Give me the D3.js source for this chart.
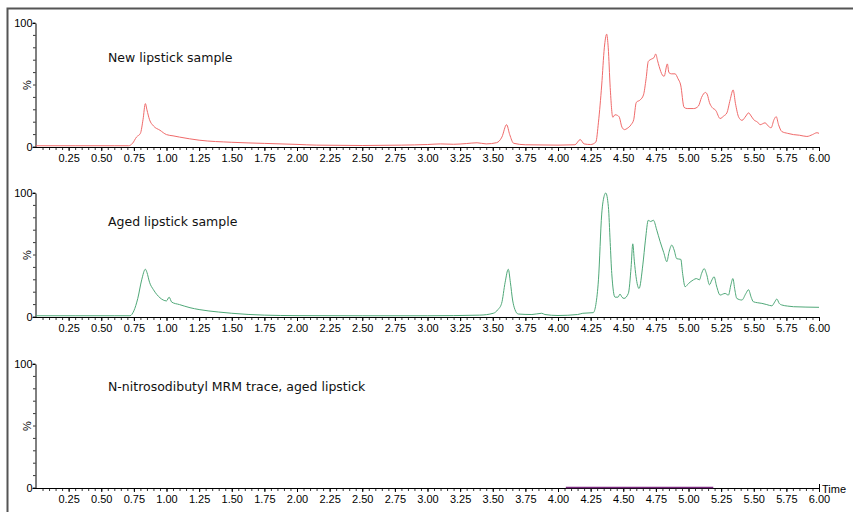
<!DOCTYPE html>
<html>
<head>
<meta charset="utf-8">
<script src="https://cdn.jsdelivr.net/npm/d3@7"></script>
<style>
  html, body { margin: 0; padding: 0; background: #fff; }
  svg { display: block; }
  .tick-label { font-family: "Liberation Sans Narrow", "Liberation Sans", Arial, sans-serif; font-size: 11px; fill: #000; }
  .panel-title { font-family: "DejaVu Sans", Verdana, sans-serif; font-size: 12.5px; fill: #111; }
</style>
</head>
<body>
<div id="chart"></div>
<script>
// time axis (minutes)
const timeDomain = [0, 6];
const majorTicks = d3.range(1, 25).map((i) => i * 0.25);
const minorTicks = d3.range(1, 121).map((i) => i * 0.05);
const pctTicks = [0, 100];
const pctMinor = d3.range(0, 101, 10);

const panelTitles = [
  'New lipstick sample',
  'Aged lipstick sample',
  'N-nitrosodibutyl MRM trace, aged lipstick',
];

// [time, %]
const newLipstick = [
  [0, 1], [0.3, 1], [0.6, 1], [0.71, 1], [0.74, 3], [0.77, 8], [0.8, 11], [0.82, 22],
  [0.838, 35], [0.85, 30], [0.87, 22], [0.9, 17], [0.95, 13.5], [1.0, 10], [1.05, 9],
  [1.1, 8], [1.25, 5.5], [1.5, 3.8], [1.75, 2.9], [2.0, 2.1], [2.15, 1.5], [2.5, 1.2],
  [2.8, 1.5], [3.0, 2], [3.1, 2.5], [3.2, 2.2], [3.3, 2.8], [3.38, 3.4], [3.45, 2.5],
  [3.53, 3.5], [3.57, 8], [3.606, 18], [3.63, 10], [3.66, 3], [3.75, 1.8], [4.0, 1.5],
  [4.13, 1.8], [4.17, 6], [4.2, 2.5], [4.25, 2], [4.29, 4], [4.31, 20], [4.335, 50],
  [4.355, 80], [4.373, 91], [4.385, 80], [4.4, 48], [4.42, 24], [4.437, 26], [4.455, 25.5],
  [4.47, 24], [4.49, 16], [4.51, 14], [4.53, 15], [4.56, 18], [4.58, 22], [4.6, 36],
  [4.63, 38], [4.655, 42], [4.675, 55], [4.692, 69], [4.718, 71], [4.735, 72], [4.749, 75],
  [4.762, 70], [4.775, 65], [4.8, 58], [4.813, 57], [4.838, 67], [4.85, 60], [4.87, 59],
  [4.897, 59], [4.92, 55], [4.94, 50], [4.966, 32], [4.99, 31], [5.04, 31], [5.076, 33],
  [5.1, 40], [5.13, 44], [5.145, 42], [5.16, 36], [5.18, 32], [5.209, 29.5], [5.242, 23],
  [5.27, 25], [5.294, 27.5], [5.319, 38], [5.342, 46], [5.36, 35], [5.385, 24], [5.41, 21.5],
  [5.44, 25], [5.46, 27.5], [5.48, 25], [5.5, 22], [5.53, 20], [5.549, 18], [5.587, 19.5],
  [5.61, 17], [5.633, 15.5], [5.655, 22], [5.672, 24.5], [5.69, 18], [5.715, 12.5],
  [5.76, 11], [5.804, 10], [5.85, 9.5], [5.907, 8.5], [5.95, 10], [5.984, 11.5], [6.0, 11],
];

const agedLipstick = [
  [0, 1], [0.3, 1], [0.6, 1], [0.72, 1], [0.75, 5], [0.78, 15], [0.81, 30], [0.838, 38.5],
  [0.85, 36], [0.87, 28], [0.9, 22], [0.95, 15.5], [1.0, 13], [1.02, 16], [1.04, 12],
  [1.1, 10], [1.18, 7.5], [1.25, 6], [1.4, 4], [1.5, 3], [1.75, 1.5], [2.0, 1.1], [2.5, 1],
  [3.0, 1], [3.4, 1.5], [3.504, 3], [3.54, 6], [3.568, 11], [3.595, 28], [3.619, 38.5],
  [3.635, 28], [3.652, 13.7], [3.67, 6], [3.695, 2.4], [3.8, 2], [3.875, 3], [3.9, 2],
  [4.0, 1.2], [4.15, 2], [4.19, 3], [4.27, 3.5], [4.29, 10], [4.31, 30], [4.335, 83],
  [4.355, 98], [4.366, 100], [4.386, 89], [4.4, 60], [4.412, 35], [4.437, 16], [4.46, 16],
  [4.475, 18.5], [4.49, 16], [4.506, 15], [4.539, 19], [4.56, 40], [4.573, 59], [4.585, 45],
  [4.598, 32.5], [4.621, 23], [4.65, 42], [4.67, 62], [4.692, 78], [4.71, 77], [4.731, 78],
  [4.757, 70], [4.782, 61], [4.81, 52], [4.834, 44.6], [4.85, 52], [4.872, 58], [4.89, 54],
  [4.91, 47], [4.941, 46.5], [4.955, 35], [4.974, 24.4], [5.0, 27], [5.038, 30], [5.06, 31],
  [5.084, 30], [5.1, 35], [5.12, 39], [5.14, 34], [5.16, 26], [5.18, 30], [5.196, 32.5],
  [5.215, 25], [5.242, 17.7], [5.28, 19], [5.306, 17.7], [5.325, 26], [5.34, 31], [5.355, 22],
  [5.37, 15], [5.409, 13.7], [5.44, 19], [5.46, 22], [5.48, 16], [5.497, 12.3], [5.53, 11.5],
  [5.562, 11], [5.6, 10], [5.639, 9], [5.66, 12], [5.677, 14.5], [5.695, 11], [5.715, 9.7],
  [5.76, 8.8], [5.804, 8.3], [5.9, 8], [6.0, 7.8],
];

const mrmTrace = [[4.06, 0.4], [5.19, 0.4]];

const traces = [newLipstick, agedLipstick, mrmTrace];
const traceColors = ['#f06a6a', '#4fa878', '#7b2a80'];

const width = 853;
const height = 512;
// plot area of each panel: y of 100% and y of 0%
const panels = [
  { top: 23, bottom: 147, titleY: 62 },
  { top: 193, bottom: 317, titleY: 226 },
  { top: 364, bottom: 488, titleY: 391 },
];

const svg = d3.select('#chart').append('svg')
  .attr('width', width)
  .attr('height', height);

// outer frame (left and top edges only)
svg.append('path')
  .attr('d', `M7.5,${height} V8.5 H${width}`)
  .attr('fill', 'none')
  .attr('stroke', '#555')
  .attr('stroke-width', 2);

const x = d3.scaleLinear().domain(timeDomain).range([36, 819]);

panels.forEach((p, i) => {
  const y = d3.scaleLinear().domain([0, 100]).range([p.bottom, p.top]);
  const g = svg.append('g');

  // minor x ticks
  g.append('g')
    .selectAll('line')
    .data(minorTicks)
    .join('line')
    .attr('x1', (d) => x(d) + 0.5)
    .attr('x2', (d) => x(d) + 0.5)
    .attr('y1', p.bottom)
    .attr('y2', p.bottom + 3)
    .attr('stroke', '#000')
    .attr('stroke-width', 0.8);

  const xAxis = d3.axisBottom(x)
    .tickValues(majorTicks)
    .tickSize(4)
    .tickSizeOuter(0)
    .tickFormat(d3.format('.2f'));

  const ax = g.append('g')
    .attr('transform', `translate(0,${p.bottom})`)
    .call(xAxis);
  ax.select('.domain').attr('stroke', '#000').attr('d', `M35,0.5H819`);
  ax.selectAll('.tick text')
    .attr('class', 'tick-label')
    .attr('font-size', null)
    .attr('font-family', null)
    .attr('y', 7);

  // minor y ticks
  g.append('g')
    .selectAll('line')
    .data(pctMinor)
    .join('line')
    .attr('x1', 33)
    .attr('x2', 35.5)
    .attr('y1', (d) => y(d))
    .attr('y2', (d) => y(d))
    .attr('stroke', '#000')
    .attr('stroke-width', 0.8);

  const yAxis = d3.axisLeft(y)
    .tickValues(pctTicks)
    .tickSize(3)
    .tickSizeOuter(0)
    .tickFormat(d3.format('d'));

  const ay = g.append('g')
    .attr('transform', 'translate(35.5,0)')
    .call(yAxis);
  ay.select('.domain').attr('stroke', '#000');
  ay.selectAll('.tick text')
    .attr('class', 'tick-label')
    .attr('font-size', null)
    .attr('font-family', null)
    .attr('x', -3);

  // "%" label at mid height
  g.append('text')
    .attr('class', 'tick-label')
    .attr('transform', `translate(32,${y(50)}) rotate(-90)`)
    .attr('text-anchor', 'middle')
    .attr('dy', '-0.1em')
    .text('%');

  g.append('text')
    .attr('class', 'panel-title')
    .attr('x', 108)
    .attr('y', p.titleY)
    .text(panelTitles[i]);

  const line = d3.line()
    .x((d) => x(d[0]))
    .y((d) => y(d[1]))
    .curve(d3.curveMonotoneX);

  g.append('path')
    .datum(traces[i])
    .attr('fill', 'none')
    .attr('stroke', traceColors[i])
    .attr('stroke-width', i === 2 ? 1.6 : 1)
    .attr('d', line);

  if (i === 2) {
    g.append('line')
      .attr('x1', 819.5).attr('x2', 819.5)
      .attr('y1', p.bottom - 4).attr('y2', p.bottom)
      .attr('stroke', '#000');
    g.append('text')
      .attr('class', 'tick-label')
      .attr('x', 822)
      .attr('y', p.bottom + 5)
      .text('Time');
  }
});
</script>
</body>
</html>
